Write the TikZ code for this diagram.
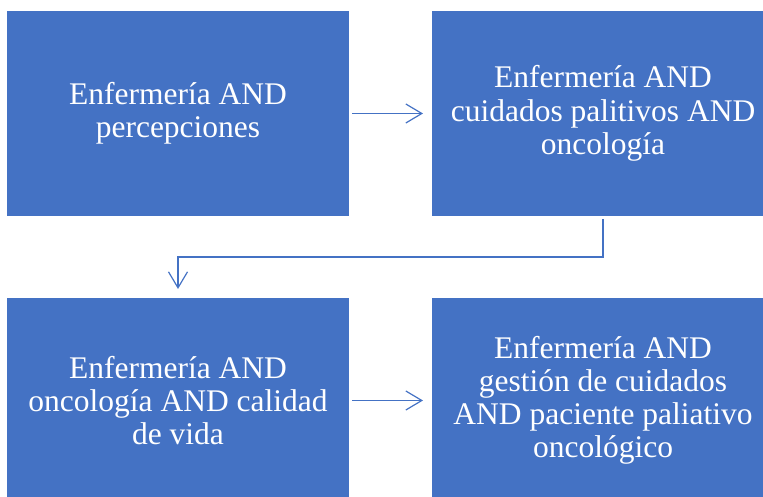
\documentclass[tikz,border=0pt]{standalone}
\usepackage{fontspec}
\setmainfont{Liberation Serif}
\usetikzlibrary{positioning,arrows.meta}
\definecolor{officeblue}{HTML}{4472C4}
\begin{document}
\begin{tikzpicture}[x=1pt,y=1pt,
	box/.style={fill=officeblue, text=white, minimum width=342pt, minimum height=205pt,
		inner sep=0pt, outer sep=0pt, align=center, font=\fontsize{31.5}{33.2}\selectfont},
	link/.style={draw=officeblue, line width=1.2pt, -{Straight Barb[length=16pt,width=19pt]}},
	node distance=82pt and 83pt]
\useasboundingbox (0,0) rectangle (763,497);
\clip (0,0) rectangle (763,497);
\node[box] (perc) at (178,383.5) {Enfermería AND\\percepciones};
\node[box, right=of perc] (palia) {Enfermería AND\\cuidados palitivos AND\\oncología};
\node[box, below=of perc] (vida) {Enfermería AND\\oncología AND calidad\\de vida};
\node[box, right=of vida] (gest) {Enfermería AND\\gestión de cuidados\\AND paciente paliativo\\oncológico};
\draw[link] ([xshift=3pt]perc.east) -- ([xshift=-9pt]palia.west);
\draw[link] ([xshift=3pt]vida.east) -- ([xshift=-9pt]gest.west);
\draw[link] ([yshift=-3pt]palia.south) -- ++(0,-38) -| ([yshift=9pt]vida.north);
\end{tikzpicture}
\end{document}
